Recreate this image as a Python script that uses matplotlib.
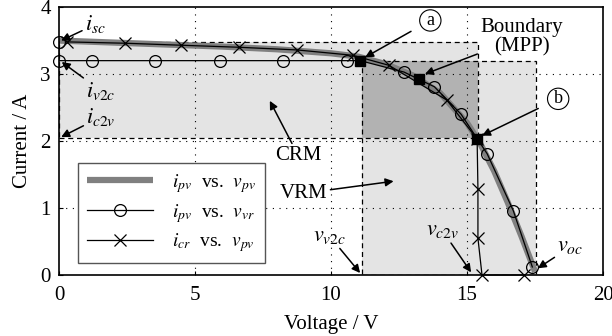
import numpy as np
from matplotlib import pyplot as plt
from matplotlib.patches import Rectangle

plt.rcParams['font.family'] = ['Liberation Serif', 'DejaVu Serif']
plt.rcParams['mathtext.fontset'] = 'stix'

# PV curve i_pv vs v_pv
v_pv = [0, 2, 4, 6, 8, 10, 11, 12, 13, 14, 15, 15.5, 16, 16.5, 17, 17.5]
i_pv = [3.50, 3.47, 3.44, 3.41, 3.37, 3.31, 3.26, 3.15, 2.98, 2.72, 2.27, 1.95, 1.55, 1.08, 0.58, 0.05]

# i_pv vs v_vr (circles)
v_vr = [0, 0, 1.2, 3.53, 5.92, 8.24, 10.6, 11.07, 12.68, 13.8, 14.78, 15.74, 16.7, 17.4]
i_vr = [3.48, 3.2, 3.2, 3.2, 3.2, 3.2, 3.2, 3.2, 3.03, 2.81, 2.40, 1.81, 0.96, 0.12]
circ_x = [0, 0, 1.2, 3.53, 5.92, 8.24, 10.6, 12.68, 13.8, 14.78, 15.74, 16.7, 17.4]
circ_y = [3.48, 3.2, 3.2, 3.2, 3.2, 3.2, 3.2, 3.03, 2.81, 2.40, 1.81, 0.96, 0.12]

# i_cr vs v_pv (crosses)
v_cr = [0.3, 2.43, 4.5, 6.6, 8.75, 10.8, 12.13, 14.26, 15.37, 15.4, 15.4, 15.55, 17.1]
i_cr = [3.48, 3.46, 3.43, 3.40, 3.36, 3.28, 3.13, 2.61, 2.03, 1.29, 0.55, 0.0, 0.0]

# boundary points a, MPP, b
sq_v = [11.07, 13.24, 15.37]
sq_i = [3.2, 2.93, 2.03]

# regions
crm = (0, 15.4, 2.05, 3.48)
vrm = (11.14, 17.55, 0, 3.2)

fig = plt.figure(figsize=(6.12, 3.36), dpi=100)
ax = fig.add_axes([0.0964, 0.1815, 0.889, 0.7975])

light = '#e4e4e4'
dark = '#b2b2b2'
ax.add_patch(Rectangle((crm[0], crm[2]), crm[1]-crm[0], crm[3]-crm[2], fc=light, ec='none', zorder=0))
ax.add_patch(Rectangle((vrm[0], vrm[2]), vrm[1]-vrm[0], vrm[3]-vrm[2], fc=light, ec='none', zorder=0))
ax.add_patch(Rectangle((vrm[0], crm[2]), crm[1]-vrm[0], vrm[3]-crm[2], fc=dark, ec='none', zorder=0))
for r in (crm, vrm):
    ax.add_patch(Rectangle((r[0], r[2]), r[1]-r[0], r[3]-r[2], fc='none', ec='k',
                           ls=(0, (4, 3)), lw=0.9, zorder=1))

for g in (5, 10, 15):
    ax.axvline(g, color='k', ls=(0, (1, 5)), lw=0.8, zorder=0.5)
for g in (1, 2, 3):
    ax.axhline(g, color='k', ls=(0, (1, 5)), lw=0.8, zorder=0.5)

ax.plot(v_pv, i_pv, color='#808080', lw=4.5, solid_capstyle='butt', zorder=2)
ax.plot(v_vr, i_vr, color='k', lw=0.9, zorder=3)
ax.plot(circ_x, circ_y, ls='none', marker='o', ms=8.5, mfc='none', mec='k', mew=0.9,
        zorder=3, clip_on=False)
ax.plot(v_cr, i_cr, color='k', lw=0.9, marker='x', ms=8.5, mew=0.9, zorder=3, clip_on=False)
ax.plot(sq_v, sq_i, ls='none', marker='s', ms=7, color='k', zorder=4)

# legend proxies
h1, = ax.plot([], [], color='#808080', lw=4.5, solid_capstyle='butt')
h2, = ax.plot([], [], color='k', lw=0.9, marker='o', ms=8.5, mfc='none', mew=0.9)
h3, = ax.plot([], [], color='k', lw=0.9, marker='x', ms=8.5, mew=0.9)
leg = ax.legend([h1, h2, h3],
                [r'$i_{pv}$  vs.  $v_{pv}$', r'$i_{pv}$  vs.  $v_{vr}$', r'$i_{cr}$  vs.  $v_{pv}$'],
                loc='lower left', bbox_to_anchor=(0.035, 0.045), borderaxespad=0,
                fontsize=14, fancybox=False, edgecolor='#555555', framealpha=1,
                handlelength=3.4, borderpad=0.45, labelspacing=0.35, handletextpad=1.0)
leg.get_frame().set_linewidth(1.0)

arr = dict(arrowstyle='-|>', color='k', lw=1.1, mutation_scale=12, shrinkA=0, shrinkB=0)
fs = 15
fm = 16
ax.annotate(r'$i_{sc}$', xy=(0.08, 3.5), xytext=(0.95, 3.74), fontsize=fm,
            ha='left', va='center', arrowprops=arr)
ax.annotate(r'$i_{v2c}$', xy=(0.1, 3.18), xytext=(1.0, 2.75), fontsize=fm,
            ha='left', va='center', arrowprops=arr)
ax.annotate(r'$i_{c2v}$', xy=(0.08, 2.06), xytext=(1.0, 2.36), fontsize=fm,
            ha='left', va='center', arrowprops=arr)
ax.annotate('CRM', xy=(7.75, 2.6), xytext=(8.8, 1.78), fontsize=fs,
            ha='center', va='center', arrowprops=arr)
ax.annotate('VRM', xy=(12.3, 1.4), xytext=(9.0, 1.22), fontsize=fs,
            ha='center', va='center', arrowprops=arr)
ax.annotate(r'$v_{v2c}$', xy=(11.07, 0.03), xytext=(9.95, 0.58), fontsize=fm,
            ha='center', va='center', arrowprops=arr)
ax.annotate(r'$v_{c2v}$', xy=(15.15, 0.04), xytext=(14.1, 0.66), fontsize=fm,
            ha='center', va='center', arrowprops=arr)
ax.annotate(r'$v_{oc}$', xy=(17.6, 0.1), xytext=(18.8, 0.42), fontsize=fm,
            ha='center', va='center', arrowprops=arr)
ax.annotate('Boundary\n(MPP)', xy=(13.45, 3.0), xytext=(17.0, 3.55), fontsize=fs,
            ha='center', va='center', linespacing=1.05, arrowprops=arr)
ax.annotate('a', xy=(11.25, 3.25), xytext=(13.65, 3.8), fontsize=13,
            ha='center', va='center', arrowprops=dict(arr, shrinkA=8),
            bbox=dict(boxstyle='circle,pad=0.12', fc='white', ec='k', lw=0.8))
ax.annotate('b', xy=(15.55, 2.08), xytext=(18.35, 2.63), fontsize=13,
            ha='center', va='center', arrowprops=dict(arr, shrinkA=8),
            bbox=dict(boxstyle='circle,pad=0.12', fc='white', ec='k', lw=0.8))

ax.set_xlim(0, 20)
ax.set_ylim(0, 4)
ax.set_xticks([0, 5, 10, 15, 20])
ax.set_yticks([0, 1, 2, 3, 4])
ax.tick_params(direction='in', length=3, labelsize=15)
ax.tick_params(axis='x', pad=8)
ax.tick_params(axis='y', pad=6)
ax.set_xlabel('Voltage / V', fontsize=15, labelpad=7)
ax.set_ylabel('Current / A', fontsize=15, labelpad=6)
for s in ax.spines.values():
    s.set_linewidth(1.2)

fig.savefig('out.png', dpi=100)
